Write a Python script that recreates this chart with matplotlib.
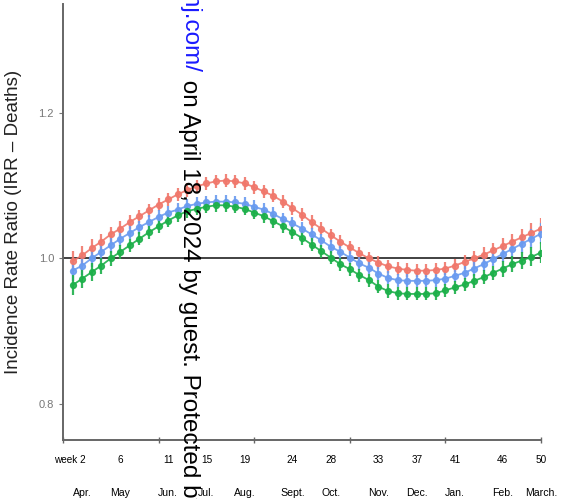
import matplotlib

matplotlib.use("Agg")
import matplotlib.pyplot as plt

plt.rcParams["font.family"] = ["Liberation Sans", "DejaVu Sans"]

# weekly incidence rate ratios (deaths), three model estimates
weeks = list(range(1, 51))
irr_red = [
    0.996, 1.004, 1.014, 1.023, 1.033, 1.041, 1.050, 1.058, 1.066, 1.074,
    1.081, 1.088, 1.094, 1.099, 1.103, 1.106, 1.107, 1.106, 1.103, 1.098,
    1.092, 1.086, 1.078, 1.069, 1.060, 1.050, 1.041, 1.032, 1.023, 1.015,
    1.007, 1.000, 0.994, 0.989, 0.986, 0.984, 0.983, 0.983, 0.984, 0.986,
    0.990, 0.995, 1.000, 1.005, 1.011, 1.017, 1.023, 1.029, 1.035, 1.041,
]
irr_blue = [
    0.983, 0.990, 1.000, 1.009, 1.018, 1.027, 1.035, 1.043, 1.050, 1.057,
    1.063, 1.067, 1.072, 1.075, 1.077, 1.078, 1.078, 1.077, 1.075, 1.071,
    1.067, 1.061, 1.054, 1.048, 1.041, 1.033, 1.025, 1.016, 1.009, 1.001,
    0.993, 0.987, 0.979, 0.973, 0.970, 0.969, 0.969, 0.969, 0.970, 0.972,
    0.976, 0.980, 0.986, 0.992, 0.999, 1.006, 1.013, 1.020, 1.027, 1.034,
]
irr_green = [
    0.963, 0.972, 0.981, 0.990, 1.000, 1.009, 1.018, 1.027, 1.036, 1.044,
    1.052, 1.059, 1.065, 1.068, 1.071, 1.073, 1.073, 1.071, 1.068, 1.063,
    1.058, 1.051, 1.044, 1.036, 1.028, 1.019, 1.010, 1.001, 0.992, 0.985,
    0.977, 0.970, 0.961, 0.955, 0.952, 0.951, 0.951, 0.951, 0.952, 0.956,
    0.960, 0.964, 0.969, 0.974, 0.980, 0.986, 0.992, 0.997, 1.002, 1.008,
]
# half width of the 95% CI, wider at both ends of the year
ci_half = [
    0.014, 0.013, 0.012, 0.011, 0.010, 0.010, 0.009, 0.009, 0.009, 0.009,
    0.009, 0.009, 0.009, 0.009, 0.009, 0.009, 0.009, 0.009, 0.009, 0.009,
    0.009, 0.009, 0.009, 0.009, 0.009, 0.009, 0.009, 0.009, 0.009, 0.009,
    0.009, 0.009, 0.009, 0.009, 0.009, 0.009, 0.009, 0.009, 0.009, 0.009,
    0.009, 0.009, 0.010, 0.010, 0.010, 0.011, 0.011, 0.012, 0.013, 0.014,
]

week_ticks = [2, 6, 11, 15, 19, 24, 28, 33, 37, 41, 46, 50]
month_labels = ["Apr.", "May", "Jun.", "Jul.", "Aug.", "Sept.", "Oct.",
                "Nov.", "Dec.", "Jan.", "Feb.", "March."]
y_ticks = [0.8, 1.0, 1.2]

series = [
    (irr_red, "#F0786C"),
    (irr_blue, "#6A9BF0"),
    (irr_green, "#1DB04A"),
]

fig = plt.figure(figsize=(5.62, 4.99), dpi=100)
ax = fig.add_axes([63 / 562, 1 - 440 / 499, 478 / 562, 436 / 499])

ax.plot([0, 50], [1.0, 1.0], color="#333333", lw=1.3, zorder=1)

for values, color in series:
    ax.errorbar(
        weeks, values, yerr=ci_half,
        fmt="o-", color=color, ms=4.2, lw=1.3,
        ecolor=color, elinewidth=1.6, capsize=0, alpha=0.9, zorder=2,
    )

ax.set_xlim(0, 50)
ax.set_ylim(0.75, 1.35)

for side in ("top", "right"):
    ax.spines[side].set_visible(False)
for side in ("left", "bottom"):
    ax.spines[side].set_color("#666666")
    ax.spines[side].set_linewidth(1.4)

ax.set_yticks(y_ticks)
ax.set_yticklabels([f"{v:.1f}" for v in y_ticks])
ax.tick_params(axis="y", colors="#777777", labelsize=8, length=3, width=0.8)
ax.set_xticks(range(0, 51, 10))
ax.set_xticklabels([])
ax.tick_params(axis="x", colors="#666666", direction="inout", length=5, width=1)

ax.set_ylabel("Incidence Rate Ratio (IRR \u2013 Deaths)", fontsize=13.5,
              color="#222222", labelpad=12)

for wk, month in zip(week_ticks, month_labels):
    ax.annotate(str(wk), xy=(wk, 0), xycoords=("data", "axes fraction"),
                xytext=(0, -20), textcoords="offset pixels",
                ha="center", va="center", fontsize=7.2)
    ax.annotate(month, xy=(wk, 0), xycoords=("data", "axes fraction"),
                xytext=(0, -53), textcoords="offset pixels",
                ha="center", va="center", fontsize=7.6)
ax.annotate("week", xy=(week_ticks[0], 0), xycoords=("data", "axes fraction"),
            xytext=(-5, -20), textcoords="offset pixels",
            ha="right", va="center", fontsize=7.2)

# download stamp running down the page
fig.text(189 / 562, 1 - 73 / 499, "bmjopen.bmj.com/", color="#1a1aff",
         rotation=-90, rotation_mode="anchor", ha="right", va="center",
         fontsize=17.5)
fig.text(189 / 562, 1 - 73 / 499, " on April 18, 2024 by guest. Protected by",
         color="black", rotation=-90, rotation_mode="anchor", ha="left",
         va="center", fontsize=17.5)

fig.savefig("out.png", dpi=100)
plt.close(fig)
